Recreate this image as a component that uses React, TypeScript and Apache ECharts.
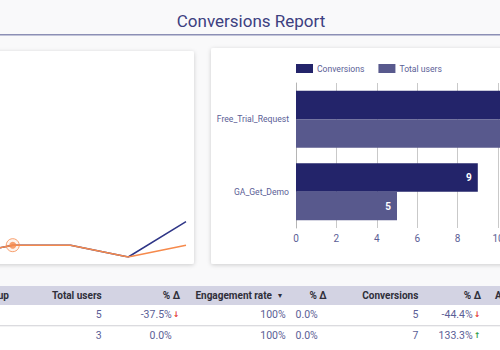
import React, { useEffect, useRef } from "react";
import * as echarts from "echarts";

// ---- Data ----
const linePeriods = ["P1", "P2", "P3", "P4", "P5"];
const lineConversions = [0, 3, 3, 0, 9];
const lineTotalUsers = [0, 3, 3, 0, 3];

const barCategories = ["Free_Trial_Request", "GA_Get_Demo"];
const barConversions = [16, 9];
const barTotalUsers = [12, 5];
const barTicks = [0, 2, 4, 6, 8, 10, 12, 14, 16, 18, 20];

const tableHeaders = [
  "Session default channel group",
  "Total users",
  "% Δ",
  "Engagement rate",
  "% Δ",
  "Conversions",
  "% Δ",
  "Avg. engagement time",
];
const rowUsers = ["5", "3"];
const rowUsersDelta = ["-37.5%", "0.0%"];
const rowUsersDir = ["down", ""];
const rowEngagement = ["100%", "100%"];
const rowEngagementDelta = ["0.0%", "0.0%"];
const rowEngagementDir = ["", ""];
const rowConversions = ["5", "7"];
const rowConversionsDelta = ["-44.4%", "133.3%"];
const rowConversionsDir = ["down", "up"];

const FONT = "Roboto";
const NAVY = "#23246a";
const SLATE = "#58598d";
const ORANGE = "#f68a4c";
const TEXT = "#5b5e96";
const OX = 100; // inner canvas starts 100px left of the visible page

export default function App() {
  const ref = useRef<HTMLDivElement>(null);
  useEffect(() => {
    if (!ref.current) return;
    const chart = echarts.init(ref.current, undefined, { renderer: "svg" });

    const headerRight = [9, 101.7, 180, 272, 326.7, 418.3, 481];
    const graphic: any[] = [];
    // cards
    graphic.push({
      type: "rect",
      z: -10,
      shape: { x: OX - 60, y: 51, width: 254, height: 213, r: 2 },
      style: { fill: "#ffffff", shadowBlur: 4, shadowColor: "rgba(0,0,0,0.18)", shadowOffsetY: 1 },
    });
    graphic.push({
      type: "rect",
      z: -10,
      shape: { x: OX + 211, y: 48, width: 460, height: 216, r: 2 },
      style: { fill: "#ffffff", shadowBlur: 4, shadowColor: "rgba(0,0,0,0.18)", shadowOffsetY: 1 },
    });
    // title
    graphic.push({
      type: "text",
      x: OX + 251,
      y: 21,
      style: {
        text: "Conversions Report",
        fill: "#3d4080",
        fontSize: 17,
        fontFamily: FONT,
        align: "center",
        verticalAlign: "middle",
      },
    });
    graphic.push({
      type: "rect",
      shape: { x: 0, y: 34, width: 900, height: 1.5 },
      style: { fill: "#8c8fb5" },
    });
    // table
    graphic.push({
      type: "rect",
      z: -10,
      shape: { x: 0, y: 286, width: 900, height: 64 },
      style: { fill: "#ffffff" },
    });
    graphic.push({
      type: "rect",
      z: -9,
      shape: { x: 0, y: 286, width: 900, height: 19 },
      style: { fill: "#d3d3e3" },
    });
    graphic.push({
      type: "rect",
      shape: { x: 0, y: 325.2, width: 900, height: 1 },
      style: { fill: "#cfcfd4" },
    });
    tableHeaders.forEach((h, i) => {
      const last = i === tableHeaders.length - 1;
      graphic.push({
        type: "text",
        x: OX + (last ? 495 : headerRight[i]),
        y: 295.5,
        style: {
          text: h,
          fill: "#2f2f3a",
          fontSize: 10,
          fontWeight: "bold",
          fontFamily: FONT,
          align: last ? "left" : "right",
          verticalAlign: "middle",
        },
      });
    });
    // sort indicator next to "Engagement rate"
    graphic.push({
      type: "text",
      x: OX + 280,
      y: 295.5,
      style: {
        text: "▾",
        fill: "#2f2f3a",
        fontSize: 8,
        fontFamily: "DejaVu Sans",
        align: "center",
        verticalAlign: "middle",
      },
    });
    const rowY = [314.7, 335.7];
    const cell = (text: string, x: number, y: number, align = "right") => ({
      type: "text",
      x: OX + x,
      y,
      style: { text, fill: TEXT, fontSize: 10.5, fontFamily: FONT, align, verticalAlign: "middle" },
    });
    const arrow = (dir: string, x: number, y: number) =>
      dir
        ? {
            type: "text",
            x: OX + x,
            y,
            style: {
              text: dir === "down" ? "↓" : "↑",
              fill: dir === "down" ? "#e53935" : "#2e9d4b",
              fontSize: 8,
              fontWeight: "bold",
              fontFamily: "DejaVu Sans",
              align: "center",
              verticalAlign: "middle",
            },
          }
        : null;
    rowY.forEach((y, r) => {
      graphic.push(cell(rowUsers[r], 101.7, y));
      graphic.push(cell(rowUsersDelta[r], 171.8, y));
      const a1 = arrow(rowUsersDir[r], 176, y);
      if (a1) graphic.push(a1);
      graphic.push(cell(rowEngagement[r], 285.7, y));
      graphic.push(cell(rowEngagementDelta[r], 317.8, y));
      const a2 = arrow(rowEngagementDir[r], 322, y);
      if (a2) graphic.push(a2);
      graphic.push(cell(rowConversions[r], 418.3, y));
      graphic.push(cell(rowConversionsDelta[r], 472.7, y));
      const a3 = arrow(rowConversionsDir[r], 477, y);
      if (a3) graphic.push(a3);
    });

    chart.setOption({
      animation: false,
      backgroundColor: "#f9f9fa",
      textStyle: { fontFamily: FONT },
      graphic,
      legend: {
        data: ["Conversions", "Total users"],
        left: OX + 296,
        top: 64,
        padding: 0,
        itemWidth: 17,
        itemHeight: 9,
        itemGap: 14,
        itemStyle: { borderWidth: 0 },
        icon: "rect",
        textStyle: { color: TEXT, fontSize: 8.6, fontFamily: FONT, padding: [0, 0, 0, -1] },
      },
      grid: [
        { left: OX - 45, top: 60, width: 231, height: 197 },
        { left: OX + 296, top: 83, width: 404, bottom: 122 },
      ],
      xAxis: [
        {
          gridIndex: 0,
          type: "category",
          data: linePeriods,
          boundaryGap: false,
          show: false,
        },
        {
          gridIndex: 1,
          type: "value",
          min: 0,
          max: 20,
          interval: 2,
          axisLine: { show: false },
          axisTick: { show: false },
          splitLine: { show: true, lineStyle: { color: "#c9c9c9", width: 1 } },
          axisLabel: {
            color: TEXT,
            fontSize: 10,
            margin: 5,
            formatter: (v: number) => (barTicks.includes(v) ? String(v) : ""),
          },
        },
      ],
      yAxis: [
        {
          gridIndex: 0,
          type: "value",
          min: 0,
          max: 50,
          show: false,
        },
        {
          gridIndex: 1,
          type: "category",
          data: barCategories,
          inverse: true,
          axisLine: { show: true, lineStyle: { color: "#b5b5b5" } },
          axisTick: { show: false },
          axisLabel: { color: TEXT, fontSize: 8.6, margin: 7, padding: [2, 0, 0, 0] },
        },
      ],
      series: [
        {
          name: "Line conversions",
          type: "line",
          xAxisIndex: 0,
          yAxisIndex: 0,
          data: lineConversions,
          showSymbol: false,
          lineStyle: { color: "#2f3687", width: 1.5 },
          itemStyle: { color: "#2f3687" },
        },
        {
          name: "Line total users",
          type: "line",
          xAxisIndex: 0,
          yAxisIndex: 0,
          data: lineTotalUsers,
          showSymbol: false,
          lineStyle: { color: ORANGE, width: 1.5 },
          itemStyle: { color: ORANGE },
        },
        {
          type: "scatter",
          xAxisIndex: 0,
          yAxisIndex: 0,
          data: [[linePeriods[1], lineTotalUsers[1]]],
          symbolSize: 13,
          itemStyle: { color: "rgba(246,138,76,0.12)", borderColor: ORANGE, borderWidth: 1 },
          z: 5,
        },
        {
          type: "scatter",
          xAxisIndex: 0,
          yAxisIndex: 0,
          data: [[linePeriods[1], lineTotalUsers[1]]],
          symbolSize: 7,
          itemStyle: { color: ORANGE },
          z: 6,
        },
        {
          name: "Conversions",
          type: "bar",
          xAxisIndex: 1,
          yAxisIndex: 1,
          data: barConversions,
          barWidth: 28.5,
          barGap: "0%",
          itemStyle: { color: NAVY },
          label: {
            show: true,
            position: "insideRight",
            color: "#ffffff",
            fontWeight: "bold",
            fontSize: 10,
            distance: 6,
          },
        },
        {
          name: "Total users",
          type: "bar",
          xAxisIndex: 1,
          yAxisIndex: 1,
          data: barTotalUsers,
          barWidth: 28.5,
          barGap: "0%",
          itemStyle: { color: SLATE },
          label: {
            show: true,
            position: "insideRight",
            color: "#ffffff",
            fontWeight: "bold",
            fontSize: 10,
            distance: 6,
          },
        },
      ],
    });
    return () => chart.dispose();
  }, []);
  return (
    <div
      style={{
        position: "fixed",
        left: 0,
        top: 0,
        width: 500,
        height: 350,
        overflow: "hidden",
      }}
    >
      <div
        ref={ref}
        style={{ position: "absolute", left: -OX, top: 0, width: 900, height: 350 }}
      />
    </div>
  );
}
